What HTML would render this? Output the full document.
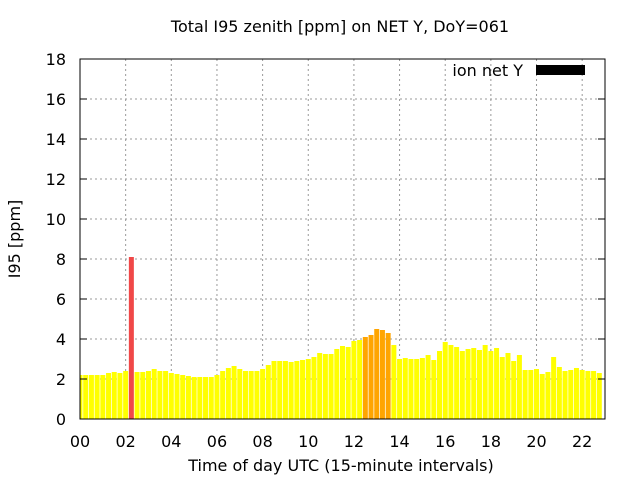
<!DOCTYPE html>
<html><head><meta charset="utf-8"><style>
body{margin:0;background:#fff}
svg{display:block;font-family:"DejaVu Sans","Liberation Sans",sans-serif}
</style></head><body>
<svg id="chart" width="640" height="480">
<defs><clipPath id="pc"><rect x="80" y="59" width="525" height="360"/></clipPath></defs>
<text x="340" y="32" text-anchor="middle" font-size="16">Total I95 zenith [ppm] on NET Y, DoY=061</text>
<text x="341" y="471" text-anchor="middle" font-size="16">Time of day UTC (15-minute intervals)</text>
<text transform="translate(20,239) rotate(-90)" text-anchor="middle" font-size="16">I95 [ppm]</text>
<g id="grid"></g><g id="bars" clip-path="url(#pc)"></g><g id="axes"></g>
<text x="523" y="76" text-anchor="end" font-size="16">ion net Y</text>
<rect x="536" y="65" width="49" height="10" fill="#000"/>
</svg>
<script>
const values=[2.2,2.2,2.2,2.2,2.2,2.3,2.35,2.3,2.4,8.1,
2.35,2.35,2.4,2.5,2.4,2.4,2.3,2.25,2.2,2.15,2.1,2.1,2.1,2.1,2.2,2.4,2.55,2.65,2.5,2.4,2.4,2.4,2.5,2.7,2.9,2.9,2.9,2.85,2.9,2.95,3.0,3.1,3.3,3.25,3.25,3.5,3.65,
3.6,3.9,3.95,4.1,4.2,4.5,4.45,4.3,
3.7,3.0,3.05,3.0,3.0,3.05,3.2,2.95,3.4,3.85,3.7,3.6,3.4,3.5,3.55,3.45,3.7,3.4,3.55,3.1,3.3,2.9,3.2,2.45,2.45,2.5,2.25,2.35,3.1,2.6,2.4,2.45,2.55,2.45,2.4,2.4,2.3];
const yTicks=[0,2,4,6,8,10,12,14,16,18];
const xTickLabels=["00","02","04","06","08","10","12","14","16","18","20","22"];
const xTickHours=[0,2,4,6,8,10,12,14,16,18,20,22];
const L=80,R=605,T=59,B=419,NS="http://www.w3.org/2000/svg";
const xH=h=>L+h*(R-L)/23;
const y=v=>B-(v/18)*(B-T);
function mk(tag,attrs,parent,text){const e=document.createElementNS(NS,tag);for(const k in attrs)e.setAttribute(k,attrs[k]);if(text!==undefined)e.textContent=text;document.getElementById(parent).appendChild(e);return e;}
yTicks.forEach(t=>{
 if(t>0&&t<18){const g=mk('line',{x1:L,x2:R,y1:y(t),y2:y(t),stroke:'#999','stroke-dasharray':'2,3'},'grid');
 
 }
 const tl=mk('text',{x:L-14,y:y(t)+6,'text-anchor':'end','font-size':16},'axes',String(t));
 
 
 mk('line',{x1:L,x2:L+7,y1:y(t),y2:y(t),stroke:'#000'},'axes');
 mk('line',{x1:R,x2:R-7,y1:y(t),y2:y(t),stroke:'#000'},'axes');
});
xTickHours.forEach((h,i)=>{
 const x=xH(h);
 if(h>0){const g=mk('line',{x1:x,x2:x,y1:T,y2:B,stroke:'#999','stroke-dasharray':'2,3'},'grid');
 
 }
 const tl=mk('text',{x:x,y:B+28,'text-anchor':'middle','font-size':16},'axes',xTickLabels[i]);
 
 
});
const bw=(R-L)/23/4;
values.forEach((v,i)=>{
 const col=v>6?'#f04848':(v>4?'#ffa500':'#ffff00');
 const b=mk('rect',{x:L+i*bw-2.5,y:y(v),width:5,height:B-y(v),fill:col},'bars');
 
 
});
const f=mk('rect',{x:L,y:T,width:R-L,height:B-T,fill:'none',stroke:'#000','stroke-width':1},'axes');


</script>
</body></html>
